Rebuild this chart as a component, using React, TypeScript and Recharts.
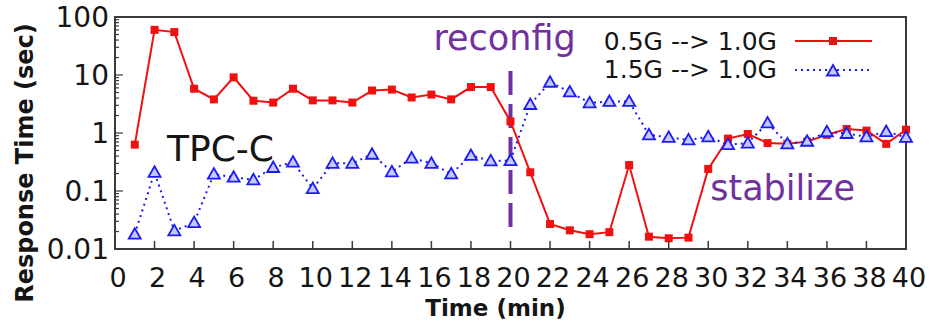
import React from "react";
import {
  Label,
  Legend,
  Line,
  LineChart,
  ReferenceArea,
  ReferenceDot,
  ReferenceLine,
  XAxis,
  YAxis,
} from "recharts";

// minutes since start of the run
const minutes = [
  1, 2, 3, 4, 5, 6, 7, 8, 9, 10, 11, 12, 13, 14, 15, 16, 17, 18, 19, 20,
  21, 22, 23, 24, 25, 26, 27, 28, 29, 30, 31, 32, 33, 34, 35, 36, 37, 38, 39, 40,
];

// response time (sec), 0.5G --> 1.0G
const growSeries = [
  0.63, 60, 55, 5.8, 3.8, 9.1, 3.6, 3.35, 5.8, 3.65, 3.65, 3.35, 5.4, 5.6, 4.1, 4.6, 3.8, 6.2, 6.2, 1.58,
  0.21, 0.027, 0.021, 0.018, 0.0195, 0.28, 0.0163, 0.0153, 0.0157, 0.24, 0.8, 0.96, 0.67, 0.65, 0.71, 0.93, 1.17, 1.1, 0.65, 1.14,
];

// response time (sec), 1.5G --> 1.0G
const shrinkSeries = [
  0.018, 0.21, 0.0205, 0.0285, 0.195, 0.173, 0.156, 0.254, 0.314, 0.11, 0.3, 0.3, 0.43, 0.214, 0.37, 0.3, 0.197, 0.41, 0.33, 0.335,
  3.1, 7.5, 5.1, 3.3, 3.5, 3.5, 0.93, 0.84, 0.76, 0.86, 0.63, 0.67, 1.49, 0.65, 0.72, 1.05, 0.98, 0.86, 1.06, 0.84,
];

const seriesNames = ["0.5G --> 1.0G", "1.5G --> 1.0G"];

const xTicks = [0, 2, 4, 6, 8, 10, 12, 14, 16, 18, 20, 22, 24, 26, 28, 30, 32, 34, 36, 38, 40];
const yMajorTicks = [0.01, 0.1, 1, 10, 100];
const yMinorTicks = [
  0.02, 0.03, 0.04, 0.05, 0.06, 0.07, 0.08, 0.09,
  0.2, 0.3, 0.4, 0.5, 0.6, 0.7, 0.8, 0.9,
  2, 3, 4, 5, 6, 7, 8, 9,
  20, 30, 40, 50, 60, 70, 80, 90,
];

const FONT = '"DejaVu Sans", Verdana, sans-serif';
const INK = "#151515";
const FRAME = "#3a3a3a";
const RED = "#f01010";
const BLUE = "#1c1cf0";
const PURPLE = "#7030a0";

const rows = minutes.map((t, i) => ({
  t,
  grow: growSeries[i],
  shrink: shrinkSeries[i],
}));

function Square({ cx, cy }: { cx: number; cy: number }) {
  return <rect x={cx - 4} y={cy - 4} width={8} height={8} fill={RED} />;
}

function Triangle({ cx, cy }: { cx: number; cy: number }) {
  return (
    <polygon
      points={`${cx},${cy - 6} ${cx - 6},${cy + 4.5} ${cx + 6},${cy + 4.5}`}
      fill="#c4c8ff"
      stroke={BLUE}
      strokeWidth={1.8}
    />
  );
}

function XTick(props: any) {
  const { x, y, payload } = props;
  return (
    <g>
      <line x1={x} x2={x} y1={y} y2={y - 8} stroke={FRAME} strokeWidth={1.5} />
      <text x={x + 3} y={y + 38} textAnchor="middle" fontSize={27} fontFamily={FONT} fill={INK}>
        {payload.value}
      </text>
    </g>
  );
}

function YTick(props: any) {
  const { x, y, payload } = props;
  const major = yMajorTicks.includes(payload.value);
  return (
    <g>
      <line x1={x} x2={x + (major ? 8 : 4)} y1={y} y2={y} stroke={FRAME} strokeWidth={1.2} />
      {major ? (
        <text x={x - 6} y={y} dy="0.36em" textAnchor="end" fontSize={28} fontFamily={FONT} fill={INK}>
          {String(payload.value)}
        </text>
      ) : null}
    </g>
  );
}

function LegendBox(props: any) {
  const items = props.payload ?? [];
  return (
    <div style={{ fontFamily: FONT, fontSize: 25, color: INK }}>
      {items.map((entry: any) => {
        const isGrow = entry.dataKey === "grow";
        return (
          <div
            key={entry.dataKey}
            style={{ display: "flex", alignItems: "center", justifyContent: "flex-end", height: 28.5 }}
          >
            <span style={{ whiteSpace: "pre" }}>{entry.value}</span>
            <svg width={77} height={20} style={{ marginLeft: 18 }}>
              <line
                x1={0}
                x2={77}
                y1={10}
                y2={10}
                stroke={isGrow ? RED : BLUE}
                strokeWidth={2}
                strokeDasharray={isGrow ? undefined : "2 4"}
              />
              {isGrow ? <Square cx={38} cy={10} /> : <Triangle cx={38} cy={11} />}
            </svg>
          </div>
        );
      })}
    </div>
  );
}

function textAt(text: string, opts: { anchor: string; size: number; color: string }) {
  return (props: any) => {
    const vb = props.viewBox ?? {};
    const x = (vb.x ?? 0) + (vb.width ?? 0) / 2;
    const y = (vb.y ?? 0) + (vb.height ?? 0) / 2;
    return (
      <text x={x} y={y} textAnchor={opts.anchor} fontSize={opts.size} fontFamily={FONT} fill={opts.color}>
        {text}
      </text>
    );
  };
}

export default function App() {
  return (
    <div style={{ position: "absolute", left: 0, top: 0, background: "#fff" }}>
      <LineChart
        width={929}
        height={326}
        data={rows}
        margin={{ top: 17, right: 23, bottom: 47, left: 0 }}
      >
        <XAxis
          dataKey="t"
          type="number"
          domain={[0, 40]}
          ticks={xTicks}
          interval={0}
          height={30}
          axisLine={false}
          tickLine={false}
          tickSize={0}
          tickMargin={0}
          tick={XTick}
        >
          <Label
            content={(props: any) => {
              const vb = props.viewBox ?? {};
              return (
                <text
                  x={vb.x + vb.width / 2 - 15}
                  y={vb.y + 67}
                  textAnchor="middle"
                  fontSize={23}
                  fontWeight="bold"
                  fontFamily={FONT}
                  fill={INK}
                >
                  Time (min)
                </text>
              );
            }}
          />
        </XAxis>
        <YAxis
          type="number"
          scale="log"
          domain={[0.01, 100]}
          allowDataOverflow
          ticks={[...yMajorTicks, ...yMinorTicks]}
          interval={0}
          width={115}
          axisLine={false}
          tickLine={false}
          tickSize={0}
          tickMargin={0}
          tick={YTick}
        >
          <Label
            content={(props: any) => {
              const vb = props.viewBox ?? {};
              const cx = vb.x + 24;
              const cy = vb.y + vb.height / 2 + 30;
              return (
                <text
                  x={cx}
                  y={cy}
                  dy="0.36em"
                  transform={`rotate(-90, ${cx}, ${cy})`}
                  textAnchor="middle"
                  fontSize={24}
                  fontWeight="bold"
                  fontFamily={FONT}
                  fill={INK}
                >
                  Response Time (sec)
                </text>
              );
            }}
          />
        </YAxis>
        <ReferenceArea
          x1={0}
          x2={40}
          y1={0.01}
          y2={100}
          fill="none"
          stroke={FRAME}
          strokeWidth={2}
          ifOverflow="visible"
        />
        <ReferenceLine
          segment={[
            { x: 20, y: 0.024 },
            { x: 20, y: 14 },
          ]}
          stroke={PURPLE}
          strokeWidth={4}
          strokeDasharray="24 9"
          ifOverflow="visible"
        />
        <ReferenceDot
          x={19.7}
          y={27}
          r={0}
          fill="none"
          stroke="none"
          ifOverflow="visible"
          label={textAt("reconfig", { anchor: "middle", size: 35, color: PURPLE })}
        />
        <ReferenceDot
          x={2.63}
          y={0.33}
          r={0}
          fill="none"
          stroke="none"
          ifOverflow="visible"
          label={textAt("TPC-C", { anchor: "start", size: 36, color: INK })}
        />
        <ReferenceDot
          x={30.1}
          y={0.07}
          r={0}
          fill="none"
          stroke="none"
          ifOverflow="visible"
          label={textAt("stabilize", { anchor: "start", size: 35, color: PURPLE })}
        />
        <Line
          dataKey="grow"
          name={seriesNames[0]}
          stroke={RED}
          strokeWidth={2}
          isAnimationActive={false}
          activeDot={false}
          dot={(p: any) => <Square key={`g-${p.index}`} cx={p.cx} cy={p.cy} />}
        />
        <Line
          dataKey="shrink"
          name={seriesNames[1]}
          stroke={BLUE}
          strokeWidth={2}
          strokeDasharray="2 4"
          isAnimationActive={false}
          activeDot={false}
          dot={(p: any) => <Triangle key={`s-${p.index}`} cx={p.cx} cy={p.cy} />}
        />
        <Legend
          layout="horizontal"
          verticalAlign="middle"
          align="center"
          content={LegendBox}
          wrapperStyle={{ top: 27, left: 582, width: 290, height: 57 }}
        />
      </LineChart>
    </div>
  );
}
